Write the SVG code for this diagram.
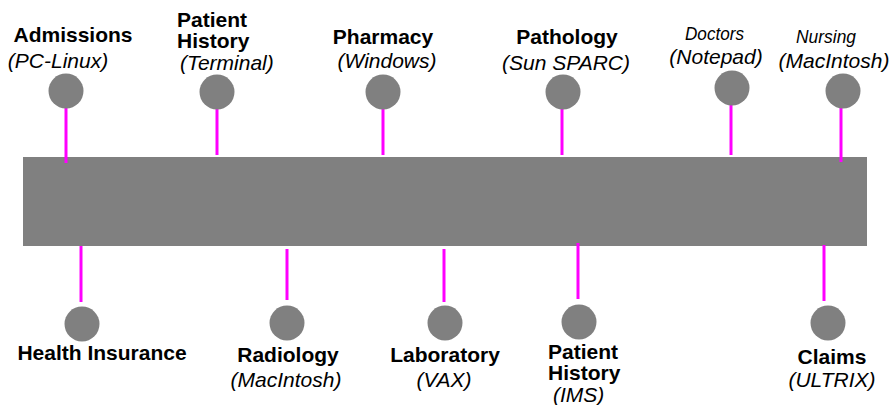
<svg xmlns="http://www.w3.org/2000/svg" width="894" height="405" viewBox="0 0 894 405">
  <style>
    .bus { fill: #808080; }
    .host { fill: #808080; }
    .link { stroke: #ff00ff; stroke-width: 3; fill: none; }
    .name { font-family: "Liberation Sans", Arial, sans-serif; font-weight: bold; font-size: 21px; fill: #000; }
    .os { font-family: "Liberation Sans", Arial, sans-serif; font-style: italic; font-size: 21px; fill: #000; }
    .narrow { font-family: "Liberation Sans", Arial, sans-serif; font-style: italic; font-size: 18px; fill: #000; }
    .mid { text-anchor: middle; }
  </style>

  <!-- network backbone -->
  <rect id="backbone" class="bus" x="23" y="157" width="844" height="89"/>

  <!-- drop lines from the backbone to each host -->
  <g id="connectors">
    <line class="link" x1="66" y1="108" x2="66" y2="163"/>
    <line class="link" x1="217" y1="108" x2="217" y2="155"/>
    <line class="link" x1="383" y1="108" x2="383" y2="155"/>
    <line class="link" x1="562" y1="108" x2="562" y2="155"/>
    <line class="link" x1="731" y1="104" x2="731" y2="155"/>
    <line class="link" x1="841" y1="106" x2="841" y2="162"/>
    <line class="link" x1="81" y1="246" x2="81" y2="302"/>
    <line class="link" x1="287" y1="249" x2="287" y2="300"/>
    <line class="link" x1="444" y1="249" x2="444" y2="302"/>
    <line class="link" x1="578" y1="243" x2="578" y2="299"/>
    <line class="link" x1="824" y1="245" x2="824" y2="301"/>
  </g>

  <!-- hosts above the backbone -->
  <g id="admissions">
    <circle class="host" cx="66" cy="91" r="17.5"/>
    <text class="name mid" x="73" y="42">Admissions</text>
    <text class="os mid" x="58" y="68">(PC-Linux)</text>
  </g>
  <g id="patient-history-terminal">
    <circle class="host" cx="217" cy="92" r="17.5"/>
    <text class="name" x="177" y="27">Patient</text>
    <text class="name" x="177" y="48">History</text>
    <text class="os" x="180" y="70">(Terminal)</text>
  </g>
  <g id="pharmacy">
    <circle class="host" cx="383" cy="92" r="17.5"/>
    <text class="name mid" x="383" y="44">Pharmacy</text>
    <text class="os mid" x="387" y="68">(Windows)</text>
  </g>
  <g id="pathology">
    <circle class="host" cx="563" cy="92" r="17.5"/>
    <text class="name mid" x="567" y="44">Pathology</text>
    <text class="os mid" x="566" y="70">(Sun SPARC)</text>
  </g>
  <g id="doctors">
    <circle class="host" cx="732" cy="88" r="17.5"/>
    <text class="narrow" x="685" y="40" textLength="59" lengthAdjust="spacingAndGlyphs">Doctors</text>
    <text class="os mid" x="716" y="64">(Notepad)</text>
  </g>
  <g id="nursing">
    <circle class="host" cx="843" cy="91" r="17.5"/>
    <text class="narrow" x="796" y="43" textLength="60" lengthAdjust="spacingAndGlyphs">Nursing</text>
    <text class="os mid" x="834" y="68">(MacIntosh)</text>
  </g>

  <!-- hosts below the backbone -->
  <g id="health-insurance">
    <circle class="host" cx="82" cy="324" r="17.5"/>
    <text class="name mid" x="102" y="360">Health Insurance</text>
  </g>
  <g id="radiology">
    <circle class="host" cx="287" cy="323" r="17.5"/>
    <text class="name mid" x="288" y="362">Radiology</text>
    <text class="os mid" x="286" y="387">(MacIntosh)</text>
  </g>
  <g id="laboratory">
    <circle class="host" cx="445" cy="323" r="17.5"/>
    <text class="name mid" x="445" y="362">Laboratory</text>
    <text class="os mid" x="444" y="387">(VAX)</text>
  </g>
  <g id="patient-history-ims">
    <circle class="host" cx="579" cy="322" r="17.5"/>
    <text class="name" x="548" y="359">Patient</text>
    <text class="name" x="548" y="380">History</text>
    <text class="os" x="553" y="402">(IMS)</text>
  </g>
  <g id="claims">
    <circle class="host" cx="828" cy="323" r="17.5"/>
    <text class="name mid" x="832" y="364">Claims</text>
    <text class="os mid" x="832" y="387">(ULTRIX)</text>
  </g>
</svg>
